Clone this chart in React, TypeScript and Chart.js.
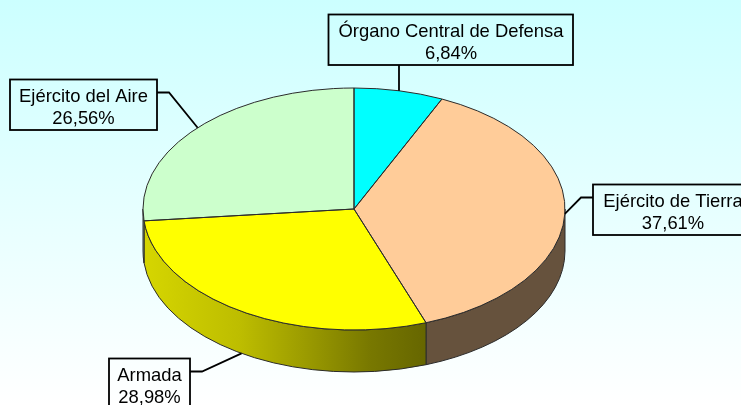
import React, { useEffect, useRef } from "react";
import { Chart, registerables } from "chart.js";

Chart.register(...registerables);

const categories = ["Órgano Central de Defensa", "Ejército de Tierra", "Armada", "Ejército del Aire"];
const values = [6.84, 37.61, 28.98, 26.56];
const percentLabels = ["6,84%", "37,61%", "28,98%", "26,56%"];
const sliceColors = ["#00FFFF", "#FFCC99", "#FFFF00", "#CCFFCC"];
const sliceRgb = [
  [0, 255, 255],
  [255, 204, 153],
  [255, 255, 0],
  [204, 255, 204],
];

// callout boxes: [left, top, right, bottom]
const boxes = [
  [328.5, 14.5, 573, 65],
  [593, 184.5, 760, 235],
  [109, 358.5, 190, 420],
  [10, 79.5, 157, 130],
];
// elbow of each leader line: [elbow x, elbow y, box-side x, box-side y]
const elbows = [
  null,
  [581, 197.5, 593, 197.5],
  [202, 371.5, 190, 371.5],
  [169, 92.5, 157, 92.5],
];
const textCenterX = [451, 673, 149.5, 83.5];

const RADIUS_X = 211;
const FLATTEN = 121 / 211;
const DEPTH = 42;
const LINE = "#2b2b2b";

const shadeStops = [
  [143, 0.84],
  [240, 0.74],
  [300, 0.62],
  [370, 0.47],
  [426, 0.4],
  [741, 0.4],
];

const pie3d = {
  id: "pie3d",
  beforeDatasetsDraw(chart: any) {
    const { ctx } = chart;
    const arcs = chart.getDatasetMeta(0).data;
    arcs.forEach((arc: any, i: number) => {
      const { x, y, startAngle, endAngle, outerRadius } = arc;
      const a = Math.max(startAngle, 0);
      const b = Math.min(endAngle, Math.PI);
      if (b <= a) return;
      const ry = outerRadius * FLATTEN;
      const grad = ctx.createLinearGradient(143, 0, 741, 0);
      const [r, g, bl] = sliceRgb[i];
      shadeStops.forEach(([px, f]) => {
        grad.addColorStop((px - 143) / (741 - 143), `rgb(${r * f},${g * f},${bl * f})`);
      });
      ctx.save();
      ctx.beginPath();
      ctx.ellipse(x, y, outerRadius, ry, 0, a, b);
      ctx.ellipse(x, y + DEPTH, outerRadius, ry, 0, b, a, true);
      ctx.closePath();
      ctx.fillStyle = grad;
      ctx.fill();
      ctx.strokeStyle = LINE;
      ctx.lineWidth = 1;
      ctx.stroke();
      ctx.restore();
    });
    const first = arcs[0];
    ctx.save();
    ctx.translate(first.x, first.y);
    ctx.scale(1, FLATTEN);
    ctx.translate(-first.x, -first.y);
  },
  afterDatasetsDraw(chart: any) {
    const { ctx } = chart;
    ctx.restore();
    const arcs = chart.getDatasetMeta(0).data;
    arcs.forEach((arc: any) => {
      const { x, y, startAngle, endAngle, outerRadius } = arc;
      ctx.save();
      ctx.beginPath();
      ctx.moveTo(x, y);
      ctx.ellipse(x, y, outerRadius, outerRadius * FLATTEN, 0, startAngle, endAngle);
      ctx.closePath();
      ctx.strokeStyle = LINE;
      ctx.lineWidth = 1;
      ctx.stroke();
      ctx.restore();
    });
  },
  afterDraw(chart: any) {
    const { ctx } = chart;
    const arcs = chart.getDatasetMeta(0).data;
    ctx.save();
    arcs.forEach((arc: any, i: number) => {
      const { x, y, startAngle, endAngle, outerRadius } = arc;
      const mid = (startAngle + endAngle) / 2;
      const ax = x + outerRadius * Math.cos(mid);
      const ay = y + outerRadius * FLATTEN * Math.sin(mid) + (Math.sin(mid) > 0.5 ? DEPTH : 0);
      const [l, t, rr, bb] = boxes[i];
      ctx.strokeStyle = "#000000";
      ctx.lineWidth = 1.8;
      ctx.beginPath();
      ctx.moveTo(ax, ay);
      const e = elbows[i];
      if (e) {
        ctx.lineTo(e[0], e[1]);
        ctx.lineTo(e[2], e[3]);
      } else {
        ctx.lineTo(ax, bb);
      }
      ctx.stroke();
      ctx.lineWidth = 1.8;
      ctx.strokeRect(l, t, rr - l, bb - t);
      ctx.fillStyle = "#000000";
      ctx.font = "18.4px 'Liberation Sans', Arial, sans-serif";
      ctx.textAlign = "center";
      ctx.textBaseline = "alphabetic";
      ctx.fillText(categories[i], textCenterX[i], t + 22.5);
      ctx.fillText(percentLabels[i], textCenterX[i], t + 44);
    });
    ctx.restore();
  },
};

export default function App() {
  const ref = useRef<HTMLCanvasElement>(null);
  useEffect(() => {
    const chart = new Chart(ref.current as HTMLCanvasElement, {
      type: "pie",
      data: {
        labels: categories,
        datasets: [
          {
            data: values,
            backgroundColor: sliceColors,
            borderWidth: 0,
            clip: false as any,
          },
        ],
      },
      options: {
        animation: false,
        responsive: false,
        radius: RADIUS_X,
        layout: { padding: { right: 33, top: 13 } },
        plugins: { legend: { display: false }, tooltip: { enabled: false } },
      } as any,
      plugins: [pie3d],
    });
    return () => chart.destroy();
  }, []);
  return (
    <div
      style={{
        position: "fixed",
        left: 0,
        top: 0,
        width: 741,
        height: 405,
        overflow: "hidden",
        background: "linear-gradient(180deg, #CCFFFF 0%, #FFFFFF 100%)",
      }}
    >
      <canvas ref={ref} width={741} height={405} style={{ display: "block" }} />
    </div>
  );
}
